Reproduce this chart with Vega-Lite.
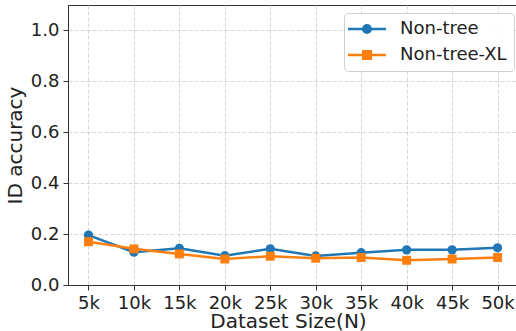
{
  "$schema": "https://vega.github.io/schema/vega-lite/v6.json",
  "autosize": "none",
  "width": 450,
  "height": 280,
  "padding": {"left": 68, "top": 5, "right": 0, "bottom": 46},
  "background": "white",
  "config": {
    "font": "DejaVu Sans",
    "view": {"stroke": "#333", "strokeWidth": 1},
    "axis": {
      "labelFont": "DejaVu Sans",
      "titleFont": "DejaVu Sans",
      "labelFontSize": 18,
      "titleFontSize": 20,
      "titleFontWeight": "normal",
      "labelColor": "#222",
      "titleColor": "#222",
      "domainColor": "#333",
      "tickColor": "#333",
      "tickSize": 5,
      "labelPadding": 4,
      "gridColor": "#cccccc",
      "gridDash": [4, 2],
      "gridWidth": 0.8
    }
  },
  "data": {
    "values": [
      {"n": 5000, "series": "Non-tree", "acc": 0.196},
      {"n": 10000, "series": "Non-tree", "acc": 0.129},
      {"n": 15000, "series": "Non-tree", "acc": 0.144},
      {"n": 20000, "series": "Non-tree", "acc": 0.115},
      {"n": 25000, "series": "Non-tree", "acc": 0.142},
      {"n": 30000, "series": "Non-tree", "acc": 0.114},
      {"n": 35000, "series": "Non-tree", "acc": 0.127},
      {"n": 40000, "series": "Non-tree", "acc": 0.138},
      {"n": 45000, "series": "Non-tree", "acc": 0.138},
      {"n": 50000, "series": "Non-tree", "acc": 0.146},
      {"n": 5000, "series": "Non-tree-XL", "acc": 0.170},
      {"n": 10000, "series": "Non-tree-XL", "acc": 0.142},
      {"n": 15000, "series": "Non-tree-XL", "acc": 0.122},
      {"n": 20000, "series": "Non-tree-XL", "acc": 0.102},
      {"n": 25000, "series": "Non-tree-XL", "acc": 0.113},
      {"n": 30000, "series": "Non-tree-XL", "acc": 0.105},
      {"n": 35000, "series": "Non-tree-XL", "acc": 0.108},
      {"n": 40000, "series": "Non-tree-XL", "acc": 0.097},
      {"n": 45000, "series": "Non-tree-XL", "acc": 0.102},
      {"n": 50000, "series": "Non-tree-XL", "acc": 0.108}
    ]
  },
  "encoding": {
    "x": {
      "field": "n",
      "type": "quantitative",
      "scale": {"domain": [2750, 52250], "nice": false, "zero": false},
      "axis": {
        "title": "Dataset Size(N)",
        "values": [5000, 10000, 15000, 20000, 25000, 30000, 35000, 40000, 45000, 50000],
        "labelExpr": "(datum.value / 1000) + 'k'",
        "titlePadding": -1,
        "titleX": 220,
        "grid": true
      }
    },
    "y": {
      "field": "acc",
      "type": "quantitative",
      "scale": {"domain": [0, 1.1], "nice": false},
      "axis": {
        "title": "ID accuracy",
        "values": [0, 0.2, 0.4, 0.6, 0.8, 1.0],
        "format": ".1f",
        "titlePadding": 5,
        "grid": true
      }
    }
  },
  "layer": [
    {
      "mark": {"type": "line", "strokeWidth": 2.5},
      "encoding": {
        "color": {
          "field": "series",
          "type": "nominal",
          "scale": {"domain": ["Non-tree", "Non-tree-XL"], "range": ["#1f77b4", "#ff7f0e"]},
          "legend": {
            "title": null,
            "orient": "none",
            "legendX": 276,
            "legendY": 8,
            "fillColor": "rgba(255,255,255,0.85)",
            "strokeColor": "#d0d0d0",
            "cornerRadius": 4,
            "padding": 7,
            "labelFont": "DejaVu Sans",
            "labelFontSize": 18,
            "labelColor": "#222",
            "symbolSize": 64,
            "symbolStrokeWidth": 2.5,
            "symbolOffset": 7,
            "labelOffset": 24,
            "rowPadding": 8,
            "encode": {
              "symbols": {
                "update": {
                  "shape": {"signal": "datum.value === 'Non-tree' ? 'M-4.75,0H4.75M0.95,0A0.95,0.95,0,1,1,-0.95,0A0.95,0.95,0,1,1,0.95,0Z' : 'M-4.75,0H4.75M-0.95,-0.95H0.95V0.95H-0.95Z'"},
                  "fill": {"signal": "datum.value === 'Non-tree' ? '#1f77b4' : '#ff7f0e'"},
                  "stroke": {"signal": "datum.value === 'Non-tree' ? '#1f77b4' : '#ff7f0e'"},
                  "strokeWidth": {"value": 2.5},
                  "fillOpacity": {"value": 1},
                  "strokeOpacity": {"value": 1},
                  "opacity": {"value": 1}
                }
              }
            }
          }
        }
      }
    },
    {
      "transform": [{"filter": "datum.series === 'Non-tree'"}],
      "mark": {"type": "point", "shape": "circle", "filled": true, "opacity": 1, "color": "#1f77b4", "size": 85}
    },
    {
      "transform": [{"filter": "datum.series === 'Non-tree-XL'"}],
      "mark": {"type": "point", "shape": "square", "filled": true, "opacity": 1, "color": "#ff7f0e", "size": 80}
    }
  ]
}
